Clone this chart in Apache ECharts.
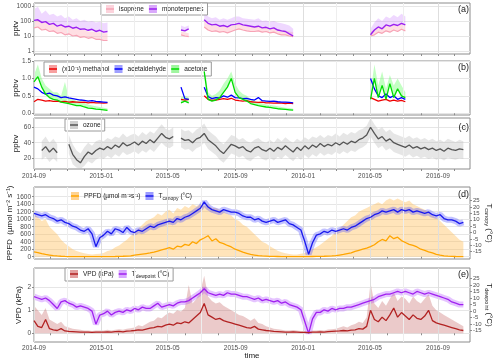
<!DOCTYPE html>
<html>
<head>
<meta charset="utf-8">
<script src="https://cdn.jsdelivr.net/npm/echarts@6/dist/echarts.min.js"></script>
<style>
html, body { margin: 0; padding: 0; background: #fff; }
#chart { width: 500px; height: 362px; }
</style>
</head>
<body>
<div id="chart"></div>
<script>
var _ = null;
function gap(n) { var a = []; for (var i = 0; i < n; i++) a.push(null); return a; }

// weekly samples, first one on 2014-09-01
var weekCount = 112;
var weeks = [];
for (var i = 0; i < weekCount; i++) weeks.push(Date.UTC(2014, 8, 1 + 7 * i));

var xStart = Date.UTC(2014, 8, 1);
var xEnd = Date.UTC(2016, 9, 29);
var monthTicks = [];
for (var m = 0; m < 26; m++) monthTicks.push(Date.UTC(2014, 8 + m, 1));
var gridMonths = [];
for (var m = 0; m <= 24; m += 2) gridMonths.push(Date.UTC(2014, 8 + m, 1));
var labelMonths = ['2014-09', '2015-01', '2015-05', '2015-09', '2016-01', '2016-05', '2016-09'];

// (a) pptv, measurement periods only
var isoprene = [].concat(
  [35,40,25,28,20,22,15,17,12,14,10,11,8,9,7,8,6,6,5,5], gap(18),
  [12,10,9], gap(3),
  [40,25,20,22,18,20,16,20,25,30,25,22,20,20,22,18,20,16,18,14,12,12,10,9], gap(19),
  [10,12,18,15,22,18,25,20,28,22], gap(15));
var isopreneHi = [].concat(
  [100,120,70,80,60,60,40,50,35,40,30,30,25,25,20,20,18,18,15,15], gap(18),
  [20,18,15], gap(3),
  [100,60,50,50,40,45,40,45,55,60,50,45,40,40,45,35,40,30,35,28,25,22,20,18], gap(19),
  [20,25,40,35,50,40,60,45,70,50], gap(15));
var monoterpenes = [].concat(
  [110,120,80,90,60,70,45,55,40,45,33,38,28,30,24,28,20,24,18,20], gap(18),
  [25,22,30], gap(3),
  [120,70,55,60,45,50,40,55,60,70,55,50,45,40,45,35,38,30,35,25,22,20,14,10], gap(19),
  [12,25,40,30,55,45,60,50,70,55], gap(15));
var monoterpenesHi = [].concat(
  [600,900,300,500,250,300,200,250,150,200,120,150,100,120,90,100,80,90,70,80], gap(18),
  [50,40,50], gap(3),
  [500,200,150,180,120,150,120,150,200,200,150,140,130,120,150,100,110,90,100,80,70,60,50,30], gap(19),
  [30,80,150,100,200,150,250,180,300,200], gap(15));

// (b) ppbv
var methanol = [].concat(
  [0.33,0.40,0.38,0.35,0.36,0.34,0.35,0.33,0.34,0.32,0.33,0.32,0.31,0.32,0.30,0.31,0.30,0.30,0.29,0.30], gap(18),
  [0.40,0.38,0.40], gap(3),
  [0.50,0.40,0.37,0.38,0.40,0.42,0.40,0.43,0.38,0.36,0.35,0.36,0.33,0.32,0.31,0.32,0.30,0.30,0.29,0.30,0.29,0.28,0.29,0.28], gap(19),
  [0.45,0.40,0.35,0.38,0.40,0.35,0.38,0.35,0.37,0.33], gap(15));
var acetaldehyde = [].concat(
  [0.75,0.70,0.60,0.55,0.58,0.52,0.50,0.45,0.47,0.44,0.42,0.40,0.38,0.37,0.35,0.36,0.34,0.33,0.32,0.31], gap(18),
  [0.75,0.42,0.40], gap(3),
  [0.75,0.48,0.42,0.45,0.44,0.50,0.46,0.52,0.45,0.44,0.42,0.43,0.40,0.38,0.45,0.36,0.35,0.34,0.35,0.33,0.32,0.32,0.31,0.30], gap(19),
  [1.00,0.70,0.50,0.45,0.55,0.45,0.50,0.40,0.45,0.40], gap(15));
var acetone = [].concat(
  [0.90,1.05,0.75,0.55,0.45,0.40,0.38,0.32,0.30,0.28,0.25,0.22,0.22,0.18,0.15,0.14,0.12,0.11,0.10,0.08], gap(18),
  [0.30,0.35,0.30], gap(3),
  [1.20,0.40,0.35,0.38,0.45,0.60,0.75,1.00,0.60,0.45,0.40,0.35,0.28,0.25,0.22,0.20,0.18,0.17,0.15,0.13,0.12,0.11,0.10,0.09], gap(19),
  [0.40,1.00,0.45,0.80,0.40,0.85,0.45,0.70,0.50,0.45], gap(15));
var acetoneHi = [].concat(
  [1.10,1.40,1.00,0.80,0.70,0.60,0.60,0.50,0.90,0.45,0.40,0.35,0.35,0.30,0.25,0.22,0.20,0.18,0.16,0.14], gap(18),
  [0.45,0.50,0.45], gap(3),
  [1.40,0.60,0.50,0.55,0.65,0.85,1.00,1.20,0.85,0.65,0.55,0.50,0.40,0.35,0.30,0.28,0.25,0.24,0.22,0.20,0.18,0.16,0.15,0.13], gap(19),
  [0.60,1.40,0.80,1.20,0.70,1.10,0.80,1.00,0.80,0.60], gap(15));

// (c) ozone ppbv
var ozone = [
  _,_,30,35,28, 33,27,_,_, 38,25,18,14, 22,28,25,30,33,
  31,35,32,37, 34,40,36,38, 41,37,42,39,44, 40,46,52,47, 45,48,_,46, 43,44,40,45,47, 52,44,40,36, 30,26,32,38, 36,33,35,30, 28,33,35,31,29, 33,29,34,31, 36,32,28,34,30,
  36,32,37,34, 39,35,38,36, 40,37,41,38,42, 40,44,46,50, 60,52,45,48,42, 45,40,38,36, 34,37,33,35, 32,34,31,33, 30,32,29,33, 31,30,32,31
];
var ozoneHi = [
  _,_,42,48,40, 45,38,_,_, 50,38,30,26, 34,40,36,42,44,
  42,46,44,48, 46,52,47,50, 52,48,54,50,55, 52,58,64,58, 56,60,_,58, 55,56,52,57,60, 65,56,52,48, 42,38,44,50, 48,44,46,42, 40,44,46,42,40, 44,40,46,42, 47,43,40,45,42,
  47,44,48,46, 50,46,50,48, 52,48,53,50,54, 52,56,58,62, 72,64,57,60,54, 57,52,50,48, 46,49,45,47, 44,46,43,45, 42,44,41,45, 43,41,44,42
];
var ozoneLo = [
  _,_,18,22,15, 20,15,_,_, 26,12,8,6, 10,16,13,18,21,
  19,23,20,25, 22,28,24,26, 29,25,30,27,32, 28,34,40,35, 33,36,_,34, 31,32,28,33,35, 40,32,28,24, 18,14,20,26, 24,21,23,18, 16,21,23,19,17, 21,17,22,19, 24,20,16,22,18,
  24,20,25,22, 27,23,26,24, 28,25,29,26,30, 28,32,34,38, 48,40,33,36,30, 33,28,26,24, 22,25,21,23, 20,22,19,21, 18,20,17,21, 19,18,20,19
];

// (d) PPFD and canopy temperature
var ppfd = [
  130,110,80,60,45, 30,20,12,8, 5,4,3,3, 2,2,2,2,2,
  3,4,5,6, 8,12,18,25, 40,55,70,85,100, 120,150,180,210, 240,200,280,260, 330,300,400,350,450, 500,560,420,480, 380,350,300,260, 200,160,120,90, 60,45,30,20,15, 10,8,6,4, 3,2,2,2,2,
  3,4,6,8, 10,12,15,20, 30,45,60,80,100, 140,170,200,230, 270,320,400,460,420, 560,480,520,430, 380,330,300,260, 200,170,130,100, 60,40,25,15, 10,6,4,3
];
var ppfdHi = [
  1150,1050,950,1000,800, 700,600,450,350, 280,200,150,120, 90,70,60,70,80,
  100,150,180,250, 300,380,450,550, 650,750,850,950,1000, 1050,1150,1100,1200, 1250,1150,1300,1250, 1350,1300,1400,1350,1400, 1350,1400,1300,1300, 1250,1200,1150,1100, 1000,950,850,800, 700,600,500,400,350, 280,220,160,120, 90,70,60,60,80,
  100,140,200,250, 320,400,480,560, 650,750,850,950,1050, 1100,1200,1250,1300, 1350,1400,1450,1400,1500, 1550,1500,1550,1500, 1450,1500,1400,1350, 1300,1250,1200,1100, 1050,950,850,750, 650,550,450,400
];
var tCanopy = [
  15,14,13,14,12, 11,9,10,8, 7,5,4,2, 1,3,-1,-11,-4,
  -2,1,-1,3, 2,0,4,1, 0,2,1,3,5, 4,6,7,8, 9,8,11,10, 12,13,15,17,19, 24,20,18,17, 16,18,17,16, 16,15,13,12, 12,10,11,9,8, 9,10,8,9, 10,7,6,4,2,
  -7,-17,-8,-2, -1,1,0,2, 1,2,3,2,4, 5,7,9,11, 12,14,15,17,16, 17,18,16,18, 17,18,16,17, 16,15,16,14, 13,14,11,10, 10,9,7,8
];

// (e) VPD and dew point
var vpd = [
  0.55,0.30,0.25,0.60,0.20, 0.15,0.12,0.20,0.10, 0.08,0.07,0.06,0.05, 0.05,0.05,0.04,0.05,0.05,
  0.05,0.06,0.05,0.07, 0.08,0.06,0.09,0.10, 0.12,0.15,0.14,0.18,0.22, 0.25,0.30,0.28,0.35, 0.40,0.35,0.45,0.42, 0.50,0.45,0.60,0.75,0.90, 1.30,0.80,0.70,0.60, 0.65,0.55,0.50,0.45, 0.40,0.35,0.30,0.25, 0.22,0.30,0.18,0.15,0.12, 0.10,0.08,0.07,0.06, 0.05,0.05,0.06,0.05,0.04,
  0.04,0.03,0.05,0.05, 0.06,0.05,0.07,0.08, 0.09,0.10,0.12,0.10,0.14, 0.15,0.20,0.18,0.30, 1.00,0.60,0.50,0.70,0.55, 0.80,1.10,0.70,0.90, 0.75,0.60,0.80,0.65, 0.60,0.75,1.00,0.55, 0.45,0.40,0.35,0.30, 0.25,0.20,0.15,0.12
];
var vpdHi = [
  1.20,1.00,0.80,1.10,0.60, 0.50,0.40,0.50,0.30, 0.25,0.20,0.18,0.15, 0.12,0.12,0.10,0.12,0.12,
  0.12,0.15,0.12,0.15, 0.18,0.15,0.20,0.22, 0.25,0.35,0.30,0.40,0.50, 0.55,0.70,0.65,0.80, 0.90,0.85,1.00,0.95, 1.10,2.10,1.30,1.50,1.80, 2.50,1.60,1.40,1.30, 1.35,1.20,1.10,1.00, 0.90,0.80,0.75,0.65, 0.55,0.65,0.45,0.40,0.30, 0.25,0.20,0.18,0.15, 0.12,0.12,0.14,0.12,0.10,
  0.10,0.08,0.12,0.12, 0.14,0.12,0.16,0.18, 0.20,0.25,0.30,0.25,0.35, 0.40,0.50,0.45,0.70, 2.20,1.30,1.10,1.40,1.20, 1.50,1.80,1.40,1.60, 1.50,1.30,1.60,1.40, 1.30,1.50,1.70,1.20, 1.00,0.90,0.80,0.70, 0.60,0.50,0.40,0.30
];
var tDew = [
  11,10,9,10,8, 5,2,7,8, 6,5,3,4, 3,2,0,-10,-3,
  -2,0,-3,-1, 0,-1,1,0, 2,1,3,2,2, 4,6,3,4, 5,4,6,7, 7,8,10,12,14, 17,14,13,12, 13,12,14,13, 13,12,11,11, 10,9,10,8,9, 8,7,8,6, 7,5,4,3,1,
  -8,-17,-6,-1, -1,1,0,2, 1,2,2,3,3, 4,5,6,7, 8,9,11,12,13, 13,14,15,14, 15,14,13,15, 14,13,14,13, 12,11,10,9, 7,6,5,5
];

var FONT = '"Liberation Sans", Arial, sans-serif';
var LEGEND_ICON = 'path://M0,0H10V4H0Z M0,6H10V10H0Z';
var tickColor = '#8c8c8c';

function toPairs(vals) { return weeks.map(function (t, i) { return [t, vals[i]]; }); }
function fmtMonth(v) {
  var d = new Date(v);
  var mm = d.getUTCMonth() + 1;
  return d.getUTCFullYear() + '-' + (mm < 10 ? '0' + mm : mm);
}
function monthValue(s) { return Date.UTC(+s.slice(0, 4), +s.slice(5, 7) - 1, 1); }
var labelTicks = labelMonths.map(monthValue);

function lineSeries(name, vals, xi, yi, dark, light, width, z) {
  return {
    name: name, type: 'line', xAxisIndex: xi, yAxisIndex: yi, data: toPairs(vals),
    showSymbol: false, symbol: LEGEND_ICON, connectNulls: false, silent: true, z: z || 5,
    lineStyle: { color: dark, width: width || 1.2 }, itemStyle: { color: light }
  };
}
// shaded range between lo and hi, one polygon per measured stretch
function bandSeries(name, lo, hi, xi, yi, fill) {
  var segs = [];
  var start = -1;
  for (var i = 0; i <= weekCount; i++) {
    var ok = i < weekCount && lo[i] != null && hi[i] != null;
    if (ok && start < 0) start = i;
    if (!ok && start >= 0) { segs.push([weeks[start], lo[start], start, i - 1]); start = -1; }
  }
  return {
    name: name, type: 'custom', xAxisIndex: xi, yAxisIndex: yi, silent: true, z: 2, clip: true,
    encode: { x: 0, y: 1 }, data: segs,
    renderItem: function (params, api) {
      var s = api.value(2), e = api.value(3);
      var pts = [];
      for (var k = s; k <= e; k++) pts.push(api.coord([weeks[k], hi[k]]));
      for (var k = e; k >= s; k--) pts.push(api.coord([weeks[k], lo[k]]));
      return { type: 'polygon', shape: { points: pts }, style: { fill: fill } };
    }
  };
}
function areaSeries(name, vals, xi, yi, fill) {
  return { name: name, type: 'line', xAxisIndex: xi, yAxisIndex: yi, data: toPairs(vals),
    showSymbol: false, symbol: 'none', silent: true, z: 2, lineStyle: { opacity: 0 },
    areaStyle: { color: fill, opacity: 1 } };
}
function gridLines(xi, yi) {
  return { name: 'grid' + xi, type: 'line', xAxisIndex: xi, yAxisIndex: yi, data: [], silent: true, z: 1,
    markLine: { silent: true, symbol: ['none', 'none'], label: { show: false }, animation: false,
      data: gridMonths.map(function (t) {
        var major = labelTicks.indexOf(t) >= 0;
        return { xAxis: t, lineStyle: { color: major ? '#dedede' : '#eeeeee', width: 1, type: 'solid' } };
      }) } };
}

var richSub = {
  t: { fontSize: 8, fontFamily: FONT, color: '#1a1a1a', lineHeight: 11 },
  s: { fontSize: 5.5, fontFamily: FONT, color: '#1a1a1a', verticalAlign: 'bottom', lineHeight: 6 }
};
var richLegend = {
  t: { fontSize: 6.5, fontFamily: FONT, color: '#1a1a1a', lineHeight: 10 },
  s: { fontSize: 5, fontFamily: FONT, color: '#1a1a1a', verticalAlign: 'bottom', lineHeight: 5 }
};
function fmtLegend(name) {
  if (name === 'Tcanopy (°C)') return '{t|T}{s|canopy}{t| (°C)}';
  if (name === 'Tdewpoint (°C)') return '{t|T}{s|dewpoint}{t| (°C)}';
  return '{t|' + name + '}';
}
function legendAt(left, top, items, boxed, pad) {
  return {
    left: left, top: top, orient: 'horizontal', itemWidth: 8, itemHeight: 10, itemGap: 4,
    padding: pad || [2, 4, 2, 4], selectedMode: false,
    backgroundColor: boxed ? '#ffffff' : 'transparent',
    borderColor: boxed ? '#9a9a9a' : 'transparent', borderWidth: boxed ? 1 : 0, borderRadius: 0,
    textStyle: { fontSize: 6.5, color: '#1a1a1a', fontFamily: FONT, rich: richLegend },
    formatter: fmtLegend,
    data: items.map(function (it) {
      return { name: it[0], icon: 'inherit', itemStyle: { color: it[2], borderWidth: 0 },
        lineStyle: { color: it[1], width: 2 } };
    })
  };
}

var gridTops = [3, 61, 118, 187, 268];
var gridHeights = [51, 54, 51, 72, 74];
var grids = gridTops.map(function (t, i) {
  return { left: 34, right: 30, top: t, height: gridHeights[i], show: true, borderColor: '#8c8c8c',
    borderWidth: 1, backgroundColor: '#ffffff', containLabel: false, outerBoundsMode: 'none' };
});

var xAxes = [0, 1, 2, 3, 4].map(function (i) {
  return {
    type: 'value', gridIndex: i, min: xStart, max: xEnd,
    axisLine: { show: false },
    axisTick: { show: true, customValues: monthTicks, length: 2, lineStyle: { color: tickColor } },
    axisLabel: { show: i === 2 || i === 4, customValues: labelTicks, formatter: fmtMonth, interval: 0,
      hideOverlap: false, fontSize: 6.5, fontFamily: FONT, color: '#4d4d4d', margin: i === 2 ? 4 : 3 },
    splitLine: { show: false },
    name: i === 4 ? 'time' : '', nameLocation: 'middle', nameGap: 10, nameMoveOverlap: false,
    nameTextStyle: { fontSize: 8, fontFamily: FONT, color: '#1a1a1a' }
  };
});

function yAxis(opt) {
  var a = {
    type: opt.type || 'value', gridIndex: opt.grid, min: opt.min, max: opt.max,
    position: opt.right ? 'right' : 'left',
    axisLine: { show: false },
    axisTick: { show: true, customValues: opt.ticks, length: 2, lineStyle: { color: tickColor } },
    axisLabel: { customValues: opt.ticks, interval: 0, hideOverlap: false, fontSize: opt.right ? 6 : 6.5,
      lineHeight: 6, fontFamily: FONT, color: '#4d4d4d', margin: 3,
      formatter: opt.fmt || function (v) { return String(v); } },
    splitLine: { show: !opt.right, lineStyle: { color: '#e6e6e6', width: 1 } },
    name: opt.name, nameLocation: 'middle', nameGap: opt.gap, nameMoveOverlap: false,
    nameTextStyle: { fontSize: 8, fontFamily: FONT, color: '#1a1a1a', rich: richSub }
  };
  if (opt.right) a.nameRotate = -90;
  if (a.type === 'log') a.logBase = 10;
  return a;
}
var tTicks = [-15, -10, -5, 0, 5, 10, 15, 20, 25];
var yAxes = [
  yAxis({ type: 'log', grid: 0, min: 0.63, max: 1585, ticks: [1, 10, 100, 1000], name: 'pptv', gap: 14,
    fmt: function (v) { return String(Math.round(v)); } }),
  yAxis({ grid: 1, min: -0.05, max: 1.5, ticks: [0, 0.5, 1, 1.5], name: 'ppbv', gap: 14,
    fmt: function (v) { return v.toFixed(1); } }),
  yAxis({ grid: 2, min: 6, max: 72, ticks: [20, 40, 60], name: 'ppbv', gap: 14 }),
  yAxis({ grid: 3, min: -61, max: 1859, ticks: [0, 200, 400, 600, 800, 1000, 1200, 1400, 1600],
    name: 'PPFD  (µmol m⁻² s⁻¹)', gap: 20 }),
  yAxis({ grid: 3, right: true, min: -20.7, max: 35.7, ticks: tTicks, name: '{t|T}{s|canopy}{t| (°C)}', gap: 14 }),
  yAxis({ grid: 4, min: -0.38, max: 2.84, ticks: [0, 1, 2], name: 'VPD (kPa)', gap: 11 }),
  yAxis({ grid: 4, right: true, min: -23.6, max: 32.9, ticks: tTicks, name: '{t|T}{s|dewpoint}{t| (°C)}', gap: 14 })
];

var series = [].concat(
  // (a)
  gridLines(0, 0),
  bandSeries('isoprene range', isoprene, isopreneHi, 0, 0, 'rgba(255,182,193,0.45)'),
  bandSeries('monoterpenes range', monoterpenes, monoterpenesHi, 0, 0, 'rgba(190,100,255,0.25)'),
  lineSeries('isoprene', isoprene, 0, 0, '#f7a3b5', '#fcd3dc', 1.2),
  lineSeries('monoterpenes', monoterpenes, 0, 0, '#9b1ff0', '#d9a8fb', 1.4),
  // (b)
  gridLines(1, 1),
  bandSeries('acetone range', acetone, acetoneHi, 1, 1, 'rgba(120,255,120,0.45)'),
  lineSeries('(x10⁻¹) methanol', methanol, 1, 1, '#ee0000', '#f7a0a0', 1.3),
  lineSeries('acetaldehyde', acetaldehyde, 1, 1, '#0000ff', '#a0a0ff', 1.3),
  lineSeries('acetone', acetone, 1, 1, '#00dd00', '#a0f5a0', 1.3),
  // (c)
  gridLines(2, 2),
  bandSeries('ozone range', ozoneLo, ozoneHi, 2, 2, 'rgba(190,190,190,0.38)'),
  lineSeries('ozone', ozone, 2, 2, '#555555', '#cfcfcf', 1.3),
  // (d)
  gridLines(3, 3),
  areaSeries('PPFD range', ppfdHi, 3, 3, 'rgba(255,190,90,0.42)'),
  lineSeries('Tcanopy range', tCanopy, 3, 4, 'rgba(80,80,255,0.35)', '#b0b0ff', 6, 3),
  lineSeries('Tcanopy (°C)', tCanopy, 3, 4, '#1a1aee', '#9b9bff', 1.3),
  lineSeries('PPFD (µmol m⁻²s⁻¹)', ppfd, 3, 3, '#ffa500', '#ffd391', 1.3),
  // (e)
  gridLines(4, 5),
  areaSeries('VPD range', vpdHi, 4, 5, 'rgba(190,80,80,0.3)'),
  lineSeries('Tdewpoint range', tDew, 4, 6, 'rgba(170,60,255,0.3)', '#d8a8ff', 6, 3),
  lineSeries('Tdewpoint (°C)', tDew, 4, 6, '#a020f0', '#d8a8ff', 1.3),
  lineSeries('VPD (kPa)', vpd, 4, 5, '#b22222', '#e3a0a0', 1.3)
);

var panelTitles = ['(a)', '(b)', '(c)', '(d)', '(e)'].map(function (t, i) {
  return { text: t, right: 31, top: [5, 63, 123, 190, 270][i], padding: 0,
    textStyle: { fontSize: 9, fontWeight: 'normal', fontFamily: FONT, color: '#1a1a1a' } };
});

var option = {
  animation: false,
  backgroundColor: '#ffffff',
  title: panelTitles,
  grid: grids,
  xAxis: xAxes,
  yAxis: yAxes,
  legend: [
    legendAt(101, 3, [['isoprene', '#f7a3b5', '#fcd3dc'], ['monoterpenes', '#9b1ff0', '#d9a8fb']], true),
    legendAt(44, 62, [['(x10⁻¹) methanol', '#ee0000', '#f7a0a0'], ['acetaldehyde', '#0000ff', '#a0a0ff'], ['acetone', '#00dd00', '#a0f5a0']], true, [3, 4, 3, 4]),
    legendAt(65, 119, [['ozone', '#555555', '#cfcfcf']], true),
    legendAt(66, 190, [['PPFD (µmol m⁻²s⁻¹)', '#ffa500', '#ffd391'], ['Tcanopy (°C)', '#1a1aee', '#9b9bff']], false),
    legendAt(65, 268, [['VPD (kPa)', '#b22222', '#e3a0a0'], ['Tdewpoint (°C)', '#a020f0', '#d8a8ff']], true)
  ],
  series: series
};

var chart = echarts.init(document.getElementById('chart'), null, { renderer: 'canvas' });
chart.setOption(option);
</script>
</body>
</html>
